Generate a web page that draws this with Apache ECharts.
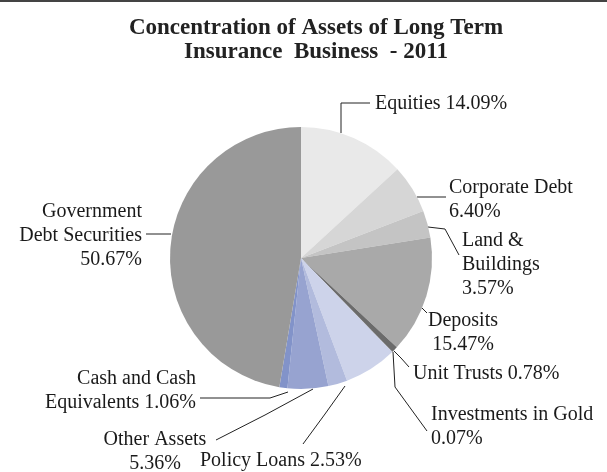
<!DOCTYPE html>
<html><head><meta charset="utf-8">
<script src="https://cdn.jsdelivr.net/npm/echarts@6/dist/echarts.min.js"></script>
<style>html,body{margin:0;padding:0;background:#fff}#c{width:607px;height:472px}</style>
</head><body><div id="c"></div>
<script>
// Data
const categories = ['Equities','Corporate Debt','Land & Buildings','Deposits','Unit Trusts','Investments in Gold','(unlabelled)','Policy Loans','Other Assets','Cash and Cash Equivalents','Government Debt Securities'];
const values = [14.09, 6.40, 3.57, 15.47, 0.78, 0.07, 7.0, 2.53, 5.36, 1.06, 50.67];
const labelNames = ['Equities ','Corporate Debt\n','Land &\nBuildings\n','Deposits\n','Unit Trusts ','Investments in Gold\n','','Policy Loans ','Other Assets\n','Cash and Cash\nEquivalents ','Government\nDebt Securities\n'];
const showLabel = [true,true,true,true,true,true,false,true,true,true,true];
const colors = ['#e9e9e9','#d6d6d6','#c4c4c4','#a9a9a9','#6b6b6b','#555555','#cdd3ea','#b2bbdd','#97a3d0','#8293c9','#999999'];
const titleText = 'Concentration of Assets of Long Term\nInsurance  Business  - 2011';

// Label layout (annotation positions)
const labelLayouts = [
  {x:375, y:104, align:'left',   line:[[341,133],[341,103],[370,103]]},
  {x:449, y:200, align:'left',   line:[[417,197],[432,197],[446,197]]},
  {x:462, y:265, align:'left',   line:[[428,227],[445,229],[459,255]]},
  {x:463, y:333, align:'center', line:[[414,301],[421,307],[427,313]]},
  {x:413, y:374, align:'left',   line:[[394,351],[401,358],[409,367]]},
  {x:431, y:427, align:'left',   line:[[393,352],[395,387],[427,431]]},
  null,
  {x:200, y:461, align:'left',   line:[[345,386],[325,414],[303,444]]},
  {x:155, y:452, align:'center', line:[[313,389],[265,415],[216,440]]},
  {x:196, y:391, align:'right',  line:[[288,392],[270,398],[200,398]]},
  {x:142, y:236, align:'right',  line:[[171,234],[158,234],[146,234]]}
];

const chart = echarts.init(document.getElementById('c'), null, {renderer:'canvas'});
const data = categories.map((c, i) => ({
  name: c,
  value: values[i],
  itemStyle: {color: colors[i]},
  label: {show: showLabel[i]},
  labelLine: {show: showLabel[i]}
}));
chart.setOption({
  backgroundColor: '#fff',
  animation: false,
  title: {
    text: titleText,
    left: 311,
    textAlign: 'center',
    top: 11,
    textStyle: {fontFamily: 'Liberation Serif', fontWeight: 'bold', fontSize: 23, lineHeight: 24, color: '#222'}
  },
  graphic: [{type:'rect', shape:{x:0, y:0, width:607, height:2}, style:{fill:'#444'}, silent:true}],
  series: [{
    type: 'pie',
    center: [301, 258],
    radius: 131,
    startAngle: 90,
    clockwise: true,
    silent: true,
    avoidLabelOverlap: false,
    itemStyle: {borderWidth: 0},
    label: {
      position: 'outside',
      fontFamily: 'Liberation Serif',
      fontSize: 20,
      lineHeight: 24,
      color: '#1a1a1a',
      formatter: p => labelNames[p.dataIndex] + values[p.dataIndex].toFixed(2) + '%'
    },
    labelLine: {show: true, lineStyle: {color: '#222', width: 1}},
    labelLayout: function (p) {
      const L = labelLayouts[p.dataIndex];
      if (!L) return {};
      return {x: L.x, y: L.y, align: L.align, verticalAlign: 'middle', labelLinePoints: L.line};
    },
    data: data
  }]
});
</script>
</body></html>
